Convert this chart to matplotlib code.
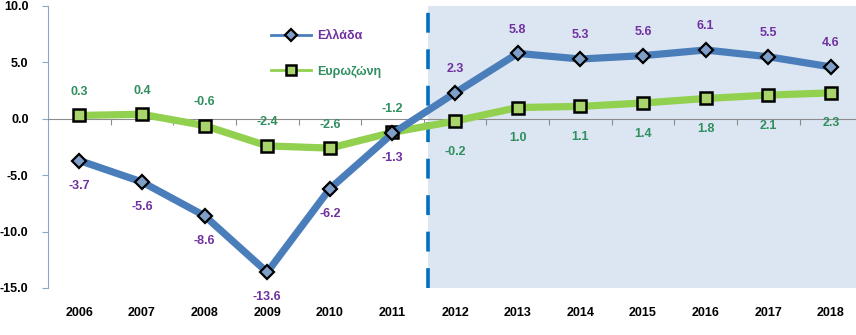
import matplotlib.pyplot as plt
from matplotlib.transforms import blended_transform_factory

years = ["2006", "2007", "2008", "2009", "2010", "2011", "2012",
         "2013", "2014", "2015", "2016", "2017", "2018"]
greece = [-3.7, -5.6, -8.6, -13.6, -6.2, -1.3, 2.3, 5.8, 5.3, 5.6, 6.1, 5.5, 4.6]
eurozone = [0.3, 0.4, -0.6, -2.4, -2.6, -1.2, -0.2, 1.0, 1.1, 1.4, 1.8, 2.1, 2.3]
split_after = 5  # forecast period starts after 2011

FONT = ["Liberation Sans", "DejaVu Sans"]
plt.rcParams["font.family"] = FONT
plt.rcParams["font.weight"] = "bold"

GR_LINE = "#4a7ebb"
GR_FILL = "#7f9fc8"
GR_TEXT = "#7030a0"
EZ_LINE = "#92d050"
EZ_FILL = "#a9d46c"
EZ_TEXT = "#2f8f5f"

fig = plt.figure(figsize=(8.56, 3.35), dpi=100)
ax = fig.add_axes([48 / 856, 1 - 288 / 335, 1 - 48 / 856, (288 - 6) / 335])

x = list(range(len(years)))

# shaded forecast area and divider
ax.axvspan(split_after + 0.56, 12.4, color="#dce6f2", zorder=0, lw=0)
ax.axvline(split_after + 0.56, color="#0070c0", lw=2.6,
           dashes=(5.5, 4.6), zorder=1)

ax.plot(x, greece, color=GR_LINE, lw=5.2, marker="D", markersize=7.5,
        markerfacecolor=GR_FILL, markeredgecolor="black", markeredgewidth=1.6,
        zorder=4, label="Ελλάδα")
ax.plot(x, eurozone, color=EZ_LINE, lw=5.2, marker="s", markersize=8,
        markerfacecolor=EZ_FILL, markeredgecolor="black", markeredgewidth=1.8,
        zorder=3, label="Ευρωζώνη")

# data labels
for i in x:
    before = i <= split_after
    gr_off = -18 if before else 17
    ez_off = 17 if before else -22
    ax.annotate(f"{greece[i]:.1f}", (i, greece[i]), xytext=(0, gr_off),
                textcoords="offset points", ha="center", va="center",
                color=GR_TEXT, fontsize=9, fontweight="bold", zorder=5)
    ax.annotate(f"{eurozone[i]:.1f}", (i, eurozone[i]), xytext=(0, ez_off),
                textcoords="offset points", ha="center", va="center",
                color=EZ_TEXT, fontsize=9, fontweight="bold", zorder=5)

ax.set_xlim(-0.5, 12.4)
ax.set_ylim(-15, 10)
ax.set_yticks([-15, -10, -5, 0, 5, 10])
ax.set_yticklabels([f"{v:.1f}" for v in [-15, -10, -5, 0, 5, 10]],
                   fontsize=9, fontweight="bold")

# x axis line at zero with ticks between categories
ax.spines["bottom"].set_position(("data", 0))
ax.spines["bottom"].set_color("#8c8c8c")
ax.spines["left"].set_color("#8aa6c8")
ax.spines["top"].set_visible(False)
ax.spines["right"].set_visible(False)
ax.set_xticks([i + 0.5 for i in x[:-1]])
ax.set_xticklabels([])
ax.tick_params(axis="x", length=4, color="#8c8c8c")
ax.tick_params(axis="y", length=4, color="#8aa6c8", pad=10)

trans = blended_transform_factory(ax.transData, ax.transAxes)
for i, yr in enumerate(years):
    ax.text(i, -0.09, yr, transform=trans, ha="center", va="center",
            fontsize=9, fontweight="bold", color="black")

leg = ax.legend(loc="upper left", bbox_to_anchor=(0.262, 0.955), frameon=False,
                handlelength=3.2, labelspacing=1.9, handletextpad=0.5,
                markerscale=0.85,
                prop={"family": FONT, "weight": "bold", "size": 9})
for line in leg.get_lines():
    line.set_linewidth(2)
leg.get_texts()[0].set_color(GR_TEXT)
leg.get_texts()[1].set_color(EZ_TEXT)

fig.savefig("out.png", dpi=100)
plt.close(fig)
